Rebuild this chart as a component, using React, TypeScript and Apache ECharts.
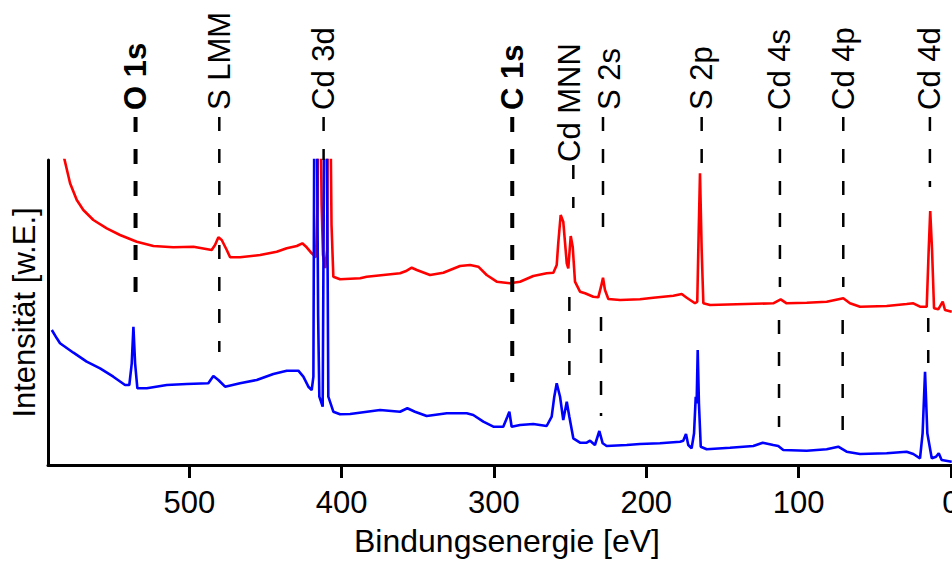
import React, { useEffect, useRef } from 'react';
import * as echarts from 'echarts';

const FONT = '"Liberation Sans", Arial, Helvetica, sans-serif';

// X axis ticks (binding energy, eV)
const tickValues = [0, 100, 200, 300, 400, 500];

// Red spectrum
const redEnergy = [584.3, 578.4, 574.0, 569.7, 563.1, 554.3, 545.6, 534.6, 523.7, 510.6, 497.4, 485.4, 483.2, 481.0, 478.8, 475.5, 473.3, 466.8, 453.6, 442.7, 436.1, 429.5, 425.9, 423.0, 419.7, 416.9, 415.9, 415.2, 414.2, 413.2, 412.3, 410.8, 409.6, 409.0, 407.7, 406.7, 405.5, 401.1, 387.9, 383.6, 361.7, 357.3, 354.0, 350.7, 342.0, 333.3, 322.3, 315.7, 310.3, 304.8, 298.2, 289.5, 282.9, 274.2, 265.4, 261.0, 258.8, 257.8, 256.2, 254.5, 252.2, 251.2, 249.6, 248.3, 246.8, 243.5, 240.2, 234.8, 231.5, 229.7, 228.4, 227.1, 224.9, 217.2, 204.1, 195.4, 182.2, 176.7, 173.4, 168.0, 166.5, 165.6, 164.7, 163.6, 162.5, 158.1, 140.6, 116.6, 111.7, 107.8, 94.6, 81.5, 70.6, 66.2, 59.6, 42.1, 29.0, 24.6, 20.2, 15.8, 14.5, 13.5, 12.3, 11.0, 8.2, 5.3, 3.8, -0.6];
const redIntensity = [320, 281.7, 265, 255, 245, 236.7, 230, 223.3, 219, 217.7, 218.3, 215, 220, 227.7, 225, 215, 207.7, 207.7, 210, 213.3, 216.7, 219, 221.7, 217.7, 211.7, 207.7, 260, 400, 400, 260, 210, 197, 215, 400, 400, 240, 188.3, 185.7, 186.7, 188.3, 191.7, 194.3, 197.3, 195, 190, 192.3, 199, 200, 198.3, 190, 183.3, 181.7, 183.3, 189, 191.7, 192.3, 200, 221.7, 250, 243.3, 201.7, 196.7, 229, 218.3, 183.3, 173.3, 171.7, 168.3, 167.7, 178.3, 187.3, 175, 166, 165, 165.7, 167.3, 169.3, 171, 167.3, 161.7, 163.3, 230, 291.7, 215, 161.7, 160, 160.7, 161.7, 165.7, 161.7, 162.3, 163.3, 166.7, 161.7, 158.3, 159, 161, 161.7, 158.3, 158.3, 215, 254, 215, 156.7, 155.7, 163.3, 155, 153.3];

// Blue spectrum
const blueEnergy = [590.4, 587.1, 585.0, 576.2, 567.5, 558.7, 550.0, 542.3, 539.5, 537.9, 536.8, 535.7, 534.2, 528.0, 514.9, 501.8, 487.6, 484.3, 481.0, 476.6, 466.8, 455.8, 444.9, 436.1, 428.5, 425.2, 421.9, 419.7, 418.6, 417.9, 416.5, 415.5, 414.7, 412.5, 411.3, 410.0, 408.8, 405.5, 401.1, 394.5, 374.8, 361.7, 356.9, 351.9, 344.2, 331.0, 317.9, 313.6, 307.0, 300.4, 293.9, 291.2, 289.9, 288.4, 282.9, 274.2, 265.4, 262.1, 260.4, 258.8, 256.6, 254.5, 252.2, 250.5, 247.9, 243.5, 239.1, 236.9, 233.7, 230.8, 228.6, 226.0, 212.8, 204.1, 191.0, 177.8, 175.7, 173.9, 172.4, 170.2, 168.6, 167.5, 166.9, 166.2, 165.4, 164.2, 160.3, 145.0, 129.7, 123.5, 116.6, 113.3, 110.0, 94.6, 81.5, 73.9, 68.4, 59.6, 42.1, 29.0, 24.6, 20.2, 18.5, 16.9, 15.4, 12.5, 9.7, 7.9, 6.0, -0.6];
const blueIntensity = [135, 126.7, 121.7, 112.3, 103.3, 96.7, 88.3, 80, 80, 101.7, 138.3, 101.7, 76.7, 76.7, 80, 81, 81.7, 89, 85, 78.3, 81.7, 85, 91, 94.3, 94.3, 88.3, 78.3, 75, 88.3, 400, 400, 150, 68.3, 58.3, 400, 400, 68.3, 53.3, 50.7, 51, 55, 53.3, 56.7, 53.3, 49, 51.7, 51.7, 50, 43.3, 38.3, 38.3, 48.3, 53.3, 38.3, 40, 41, 39, 48.3, 68.3, 81.7, 68.3, 45, 63.3, 48.3, 26.7, 22.3, 22.3, 24.3, 20, 34, 21.7, 19, 20, 21, 21.7, 23.3, 24.3, 31, 20, 16.7, 31.7, 68.3, 61.7, 115, 61.7, 18.3, 15.7, 17.3, 19, 22.3, 20, 19, 15, 14.3, 15.7, 18.3, 13.3, 11, 11.7, 13.3, 11, 6.7, 31.7, 93.3, 31.7, 6.7, 8.3, 11.7, 5, 3.3];

// Peak annotations
const peakNames = ['O 1s', 'S LMM', 'Cd 3d', 'C 1s', 'Cd MNN', 'S 2s', 'S 2p', 'Cd 4s', 'Cd 4p', 'Cd 4d'];
const peakBold = [true, false, false, true, false, false, false, false, false, false];
const labelEnergy = [535.4, 480.4, 411.9, 288.0, 250.1, 224.3, 163.6, 112.2, 70.6, 13.7];
const labelIntensity = [355, 355, 355, 355, 303, 355, 355, 355, 355, 355];
// upper marker segments: [energy, from, to]
const upperMarkers = [
  [535.4, 348, 162],
  [480.4, 348, 113],
  [411.9, 348, 305],
  [288.0, 348, 83],
  [247.9, 300, 257],
  [228.4, 348, 235],
  [163.6, 348, 301],
  [112.2, 348, 178],
  [70.6, 348, 178],
  [13.7, 348, 278],
];
const upperBold = [true, false, false, true, false, false, false, false, false, false];
// lower marker segments
const lowerMarkers = [
  [250.5, 168, 88],
  [229.7, 148, 49],
  [112.8, 145, 38],
  [71.0, 145, 33],
  [14.8, 147, 102],
];

export default function App() {
  const ref = useRef<HTMLDivElement>(null);

  useEffect(() => {
    const chart = echarts.init(ref.current!, null, { renderer: 'svg' });

    const markerSeries: any[] = [];
    const addMarker = (m: number[], bold: boolean) => {
      markerSeries.push({
        type: 'line',
        data: [[m[0], m[1]], [m[0], m[2]]],
        symbol: 'none',
        clip: false,
        silent: true,
        z: 4,
        lineStyle: {
          color: '#000',
          width: bold ? 4 : 2.5,
          type: bold ? [15, 17] : [14, 18],
        },
      });
    };
    upperMarkers.forEach((m, i) => addMarker(m, upperBold[i]));
    lowerMarkers.forEach((m) => addMarker(m, false));

    const option: any = {
      animation: false,
      textStyle: { fontFamily: FONT },
      grid: {
        left: 48,
        top: 160,
        width: 918,
        height: 305,
        containLabel: false,
        outerBoundsMode: 'none',
      },
      xAxis: {
        type: 'value',
        inverse: true,
        min: -10,
        max: 592.9,
        name: 'Bindungsenergie [eV]',
        nameLocation: 'middle',
        nameGap: 60,
        nameTextStyle: { fontSize: 32, color: '#000', fontFamily: FONT },
        axisLine: { show: true, onZero: false, lineStyle: { color: '#000', width: 3 } },
        axisTick: { show: true, inside: false, length: 13, customValues: tickValues, lineStyle: { color: '#000', width: 3 } },
        axisLabel: { show: true, customValues: tickValues, fontSize: 31, color: '#000', margin: 22, fontFamily: FONT, hideOverlap: false },
        splitLine: { show: false },
      },
      yAxis: {
        type: 'value',
        min: 0,
        max: 305,
        name: 'Intensität [w.E.]',
        nameLocation: 'middle',
        nameGap: 8,
        nameTextStyle: { fontSize: 31, color: '#000', fontFamily: FONT },
        axisLine: { show: true, onZero: false, lineStyle: { color: '#000', width: 3 } },
        axisTick: { show: false },
        axisLabel: { show: false },
        splitLine: { show: false },
      },
      series: [
        {
          type: 'line',
          data: redEnergy.map((e, i) => [e, redIntensity[i]]),
          symbol: 'none',
          clip: true,
          z: 3,
          lineStyle: { color: '#ff0000', width: 2.6 },
        },
        {
          type: 'line',
          data: blueEnergy.map((e, i) => [e, blueIntensity[i]]),
          symbol: 'none',
          clip: true,
          z: 3,
          lineStyle: { color: '#0000ff', width: 2.6 },
        },
        ...markerSeries,
        {
          type: 'scatter',
          clip: false,
          silent: true,
          symbol: 'circle',
          symbolSize: 1,
          itemStyle: { color: 'rgba(0,0,0,0)' },
          z: 5,
          label: {
            show: true,
            position: 'inside',
            rotate: 90,
            align: 'left',
            verticalAlign: 'middle',
            formatter: '{b}',
            fontSize: 31,
            color: '#000000',
            opacity: 1,
            textBorderWidth: 0,
            textBorderColor: 'transparent',
            fontFamily: FONT,
          },
          data: peakNames.map((n, i) => ({
            name: n,
            value: [labelEnergy[i], labelIntensity[i]],
            label: { fontWeight: peakBold[i] ? 'bold' : 'normal' },
          })),
        },
      ],
    };

    chart.setOption(option);
    return () => chart.dispose();
  }, []);

  return (
    <div
      ref={ref}
      style={{ position: 'absolute', left: 0, top: 0, width: 952, height: 563, background: '#fff' }}
    />
  );
}
